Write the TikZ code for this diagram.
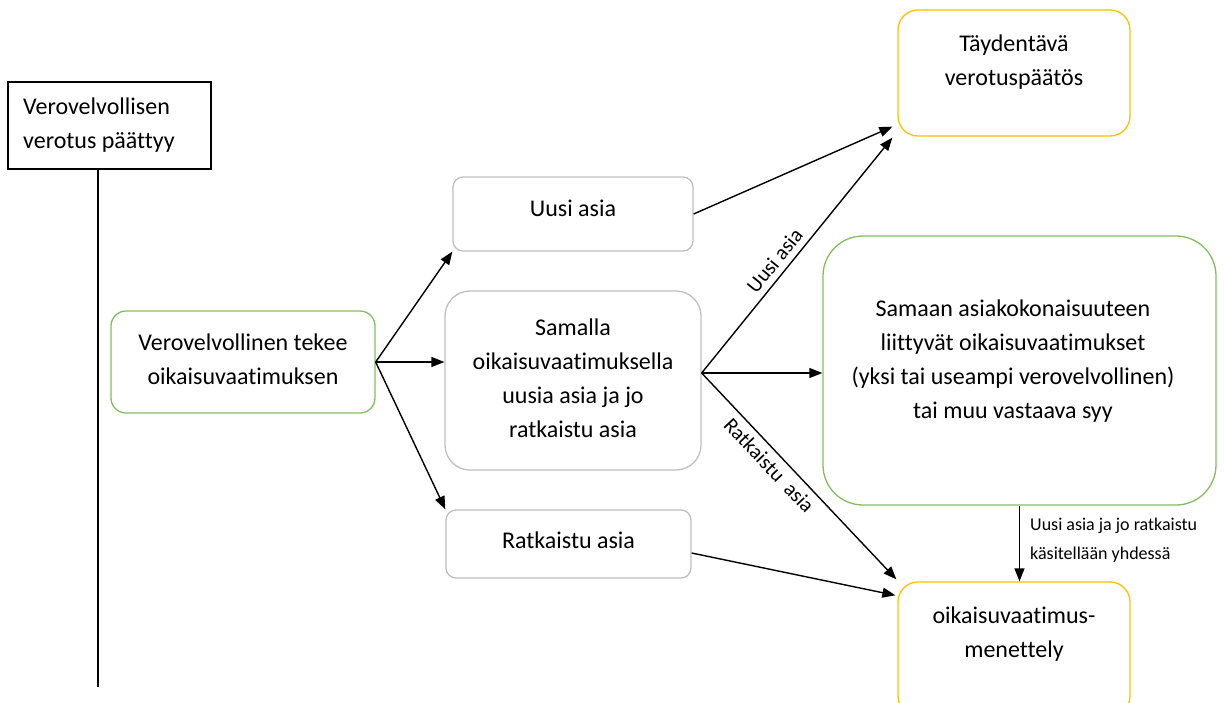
\documentclass[tikz,border=0pt]{standalone}
\usepackage{fontspec}
\setmainfont{Carlito}[Ligatures={NoCommon}]
\usetikzlibrary{arrows.meta}
\definecolor{grn}{RGB}{132,190,92}
\definecolor{ylw}{RGB}{255,192,0}
\definecolor{gry}{RGB}{190,190,190}
\tikzset{
  txt/.style={font=\fontsize{24}{34}\selectfont, align=center, inner sep=0pt},
  small/.style={font=\fontsize{18}{29}\selectfont, align=left, inner sep=0pt},
  lbl/.style={font=\fontsize{21}{25}\selectfont, inner sep=2pt},
  boxbase/.style={draw, line width=1.3pt, inner sep=0pt},
  blackbox/.style={boxbase, draw=black},
  graybox/.style={boxbase, draw=gry, rounded corners=#1},
  greenbox/.style={boxbase, draw=grn, rounded corners=#1},
  yellowbox/.style={boxbase, draw=ylw, rounded corners=#1},
  arr/.style={line width=1.4pt, -{Triangle[length=13pt,width=10pt]}},
}
\begin{document}
\begin{tikzpicture}[x=1pt,y=-1pt]
\useasboundingbox (0,0) rectangle (1224,702);
% boxes
\node[blackbox, minimum width=203pt, minimum height=87pt] (blk) at (109.5,125.5) {};
\node[txt, align=left, anchor=west] (blkt) at (23,125.5) {Verovelvollisen\\verotus päättyy};
\node[greenbox=15pt, minimum width=264pt, minimum height=102pt] (g1) at (243,362) {};
\node[txt] (g1t) at (243,359) {Verovelvollinen tekee\\oikaisuvaatimuksen};
\node[graybox=10pt, minimum width=240pt, minimum height=74pt] (uusi) at (573,214) {};
\node[txt] (uusit) at (573,208) {Uusi asia};
\node[graybox=25pt, minimum width=256pt, minimum height=179pt] (sam) at (573,380.5) {};
\node[txt] (samt) at (573,378.5) {Samalla\\oikaisuvaatimuksella\\uusia asia ja jo\\ratkaistu asia};
\node[graybox=10pt, minimum width=245pt, minimum height=68pt] (ratk) at (568.5,544) {};
\node[txt] (ratkt) at (568.5,540) {Ratkaistu asia};
\node[yellowbox=20pt, minimum width=232pt, minimum height=126pt] (tayd) at (1014,73) {};
\node[txt] (taydt) at (1014,62) {Täydentävä\\verotuspäätös};
\node[greenbox=40pt, minimum width=393pt, minimum height=269pt] (big) at (1019.5,370.5) {};
\node[txt] (bigt) at (1013,361) {Samaan asiakokonaisuuteen\\liittyvät oikaisuvaatimukset\\(yksi tai useampi verovelvollinen)\\tai muu vastaava syy};
\node[yellowbox=20pt, minimum width=232pt, minimum height=134pt] (bot) at (1014,649) {};
\node[txt] (bott) at (1014,634) {oikaisuvaatimus-\\menettely};
% timeline
\draw[line width=2.5pt] ([xshift=-11.5pt]blk.south) -- ++(0,517) coordinate (tend);
% arrows
\draw[arr] (g1.east) -- (uusi.south west);
\draw[arr] (g1.east) -- (sam.west |- g1.east);
\draw[arr] (g1.east) -- (ratk.north west);
\draw[arr] (uusi.east) -- ([xshift=-5pt,yshift=10pt]tayd.south west);
\coordinate (s) at ([yshift=7.5pt]sam.east);
\draw[arr] (s) -- ([xshift=-5pt,yshift=-1pt]tayd.south west) node[lbl, pos=0.44, sloped, above=4pt] {Uusi asia};
\draw[arr] (s) -- (big.west |- s);
\draw[arr] (s) -- ([xshift=-1pt,yshift=2pt]bot.north west) node[lbl, pos=0.4, sloped, below=4pt] {Ratkaistu\ \ asia};
\draw[arr] ([yshift=-9pt]ratk.east) -- ([xshift=-2pt,yshift=-14pt]bot.north west);
\draw[arr] (big.south) -- (big.south |- bot.north) node[small, pos=0.45, anchor=west, xshift=10pt] {Uusi asia ja jo ratkaistu\\käsitellään yhdessä};
\end{tikzpicture}
\end{document}
